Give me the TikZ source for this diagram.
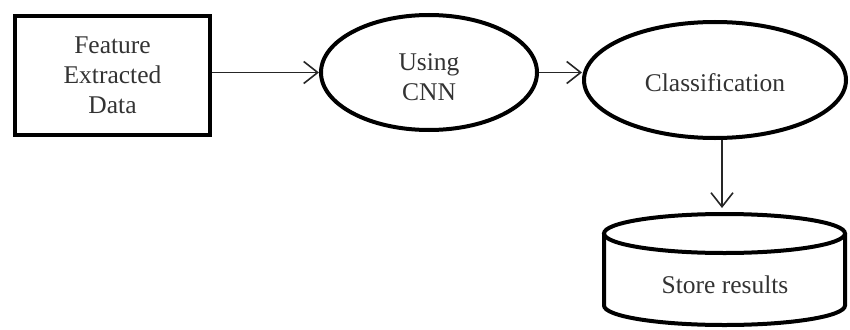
\documentclass[tikz,border=0pt]{standalone}
\usepackage{fontspec}
\setmainfont{Liberation Serif}
\usetikzlibrary{arrows.meta,shapes.geometric}
\definecolor{txt}{HTML}{333333}
\tikzset{
  lbl/.style={font=\fontsize{25.5pt}{30pt}\selectfont, text=txt, align=center, inner sep=0pt},
  boxnode/.style={lbl, draw=black, line width=4.5pt, rectangle, minimum width=195pt, minimum height=119pt},
  ellnode/.style={lbl, draw=black, line width=4pt, ellipse},
  arr/.style={draw=black!85, line width=1.6pt, -{Straight Barb[length=14pt,width=22pt,line width=1.6pt]}},
  cyl/.style={draw=black, line width=4pt}
}
\begin{document}
\begin{tikzpicture}[x=1pt,y=-1pt]
\useasboundingbox (0,0) rectangle (850,329);
\node[boxnode] (feat) at (112.5,75.5) {Feature\\Extracted\\Data};
\node[ellnode, minimum width=216pt, minimum height=115pt] (cnn) at (429,72.5) {\raisebox{-7pt}[\height][\depth]{\begin{tabular}{@{}c@{}}Using\\CNN\end{tabular}}};
\node[ellnode, minimum width=262pt, minimum height=116pt] (cls) at (715,80) {\raisebox{-3pt}[\height][\depth]{Classification}};
% cylinder
\draw[cyl] (604,233.5) -- (604,305.5) arc[start angle=180,end angle=360,x radius=120.5pt,y radius=19.5pt] -- (845,233.5);
\draw[cyl] (724.5,233.5) ellipse [x radius=120.5pt, y radius=19.5pt];
\node[lbl] (store) at (725,285) {Store results};
\coordinate (storetop) at (722,208);
% connectors
\draw[arr] (feat.east |- cnn.west) -- (cnn.west);
\draw[arr] (cnn.east) -- (cnn.east -| cls.west);
\draw[arr] (cls.south -| storetop) -- (storetop);
\end{tikzpicture}
\end{document}
